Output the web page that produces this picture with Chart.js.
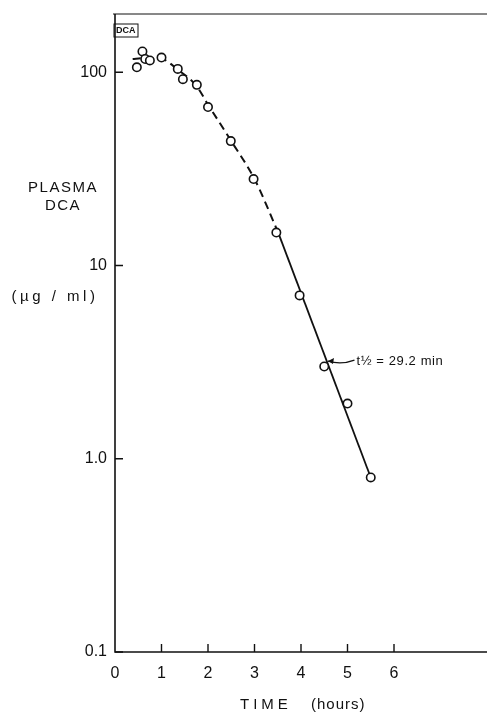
<!DOCTYPE html>
<html>
<head>
<meta charset="utf-8">
<script src="https://cdn.jsdelivr.net/npm/chart.js@4/dist/chart.umd.min.js"></script>
<style>
  body { margin: 0; background: #fff; overflow: hidden; }
  canvas { display: block; }
</style>
</head>
<body>
<canvas id="canvas-dca" width="487" height="715"></canvas>
<script>
// observed plasma DCA (ug/ml) vs time (hours)
const obsHours = [0.47, 0.59, 0.65, 0.75, 1.0, 1.35, 1.46, 1.76, 2.0, 2.49, 2.98, 3.47, 3.97, 4.5, 5.0, 5.5];
const obsConc = [106, 128, 117, 115, 119, 104, 92, 86, 66, 44, 28, 14.8, 7.0, 3.0, 1.93, 0.80];

// hand drawn curve through early points (dashed)
const curveHours = [0.38, 0.6, 1.0, 1.35, 1.75, 2.0, 2.5, 3.0, 3.5];
const curveConc = [117, 118, 117, 103, 85, 68, 44, 28, 15];

// terminal log-linear fit, t1/2 = 29.2 min
const fitHours = [3.5, 5.5];
const fitConc = [15, 0.8];

const xTicks = [0, 1, 2, 3, 4, 5, 6];
const yTicks = [0.1, 1, 10, 100];
const yTickLabels = ["0.1", "1.0", "10", "100"];

const font = "'Liberation Sans', Arial, sans-serif";
const pts = (xs, ys) => xs.map((x, i) => ({ x: x, y: ys[i] }));

// axes, inward ticks and free text
const decor = {
  id: "decor",
  afterDraw(chart) {
    const ctx = chart.ctx;
    const a = chart.chartArea;
    const xs = chart.scales.x;
    const ys = chart.scales.y;
    ctx.save();
    ctx.strokeStyle = "#111";
    ctx.lineWidth = 1.6;
    ctx.beginPath();
    ctx.moveTo(a.left, a.top);
    ctx.lineTo(a.left, a.bottom);
    ctx.lineTo(a.right, a.bottom);
    ctx.stroke();
    ctx.lineWidth = 1;
    ctx.beginPath();
    ctx.moveTo(a.left - 2, a.top);
    ctx.lineTo(a.right, a.top);
    ctx.stroke();
    ctx.lineWidth = 1.4;
    ctx.beginPath();
    yTicks.forEach((v) => {
      const y = ys.getPixelForValue(v);
      ctx.moveTo(a.left, y);
      ctx.lineTo(a.left + 8, y);
    });
    xTicks.slice(1).forEach((v) => {
      const x = xs.getPixelForValue(v);
      ctx.moveTo(x, a.bottom);
      ctx.lineTo(x, a.bottom - 8);
    });
    ctx.stroke();

    // DCA box
    ctx.lineWidth = 1;
    ctx.strokeRect(a.left - 1, 24, 24, 13);
    ctx.fillStyle = "#111";
    ctx.font = "bold 9px " + font;
    ctx.textAlign = "left";
    ctx.textBaseline = "middle";
    ctx.fillText("DCA", a.left + 1, 31);

    // y title
    ctx.font = "15px " + font;
    ctx.letterSpacing = "1.5px";
    ctx.textAlign = "center";
    ctx.fillText("PLASMA", 63, 188);
    ctx.fillText("DCA", 63, 206);
    ctx.letterSpacing = "3.5px";
    ctx.fillText("(\u00b5g / ml)", 55, 297);

    // x title
    ctx.letterSpacing = "4px";
    ctx.textAlign = "left";
    ctx.fillText("TIME", 240, 705);
    ctx.letterSpacing = "1px";
    ctx.fillText("(hours)", 311, 705);

    // half-life note with arrow to the fit line
    const tx = xs.getPixelForValue(5.15);
    const ty = ys.getPixelForValue(3.2);
    const hx = xs.getPixelForValue(4.58);
    ctx.letterSpacing = "0.6px";
    ctx.font = "13px " + font;
    ctx.fillText("t\u00bd = 29.2 min", tx + 2, ty);
    ctx.lineWidth = 1.2;
    ctx.beginPath();
    ctx.moveTo(tx, ty - 1);
    ctx.quadraticCurveTo((tx + hx) / 2, ty + 4, hx, ty);
    ctx.stroke();
    ctx.beginPath();
    ctx.moveTo(hx, ty);
    ctx.lineTo(hx + 6, ty - 3);
    ctx.lineTo(hx + 5, ty + 3);
    ctx.closePath();
    ctx.fill();
    ctx.restore();
  },
};

new Chart(document.getElementById("canvas-dca").getContext("2d"), {
  type: "scatter",
  data: {
    datasets: [
      {
        label: "observed",
        data: pts(obsHours, obsConc),
        showLine: false,
        pointRadius: 4.2,
        pointBorderWidth: 1.6,
        pointBackgroundColor: "#fff",
        pointBorderColor: "#111",
        order: 0,
      },
      {
        label: "curve",
        data: pts(curveHours, curveConc),
        showLine: true,
        pointRadius: 0,
        borderColor: "#111",
        borderWidth: 2,
        borderDash: [8, 5],
        cubicInterpolationMode: "monotone",
        order: 1,
      },
      {
        label: "fit",
        data: pts(fitHours, fitConc),
        showLine: true,
        pointRadius: 0,
        borderColor: "#111",
        borderWidth: 1.8,
        order: 1,
      },
    ],
  },
  options: {
    responsive: false,
    animation: false,
    layout: { autoPadding: false, padding: { top: 14, right: 0, left: 0, bottom: 0 } },
    plugins: { legend: { display: false }, tooltip: { enabled: false } },
    scales: {
      x: {
        type: "linear",
        min: 0,
        max: 8,
        grid: { display: false, drawTicks: false },
        border: { display: false },
        afterBuildTicks: (s) => { s.ticks = xTicks.map((v) => ({ value: v })); },
        afterFit: (s) => { s.height = 63; s.paddingLeft = 0; s.paddingRight = 0; },
        ticks: { color: "#111", padding: 12, maxRotation: 0, font: { family: font, size: 16 } },
      },
      y: {
        type: "logarithmic",
        min: 0.1,
        max: 200,
        grid: { display: false, drawTicks: false },
        border: { display: false },
        afterBuildTicks: (s) => { s.ticks = yTicks.map((v) => ({ value: v })); },
        afterFit: (s) => { s.width = 115; s.paddingTop = 0; s.paddingBottom = 0; },
        ticks: {
          color: "#111",
          padding: 8,
          font: { family: font, size: 16 },
          callback: (v) => yTickLabels[yTicks.indexOf(v)],
        },
      },
    },
  },
  plugins: [decor],
});
</script>
</body>
</html>
